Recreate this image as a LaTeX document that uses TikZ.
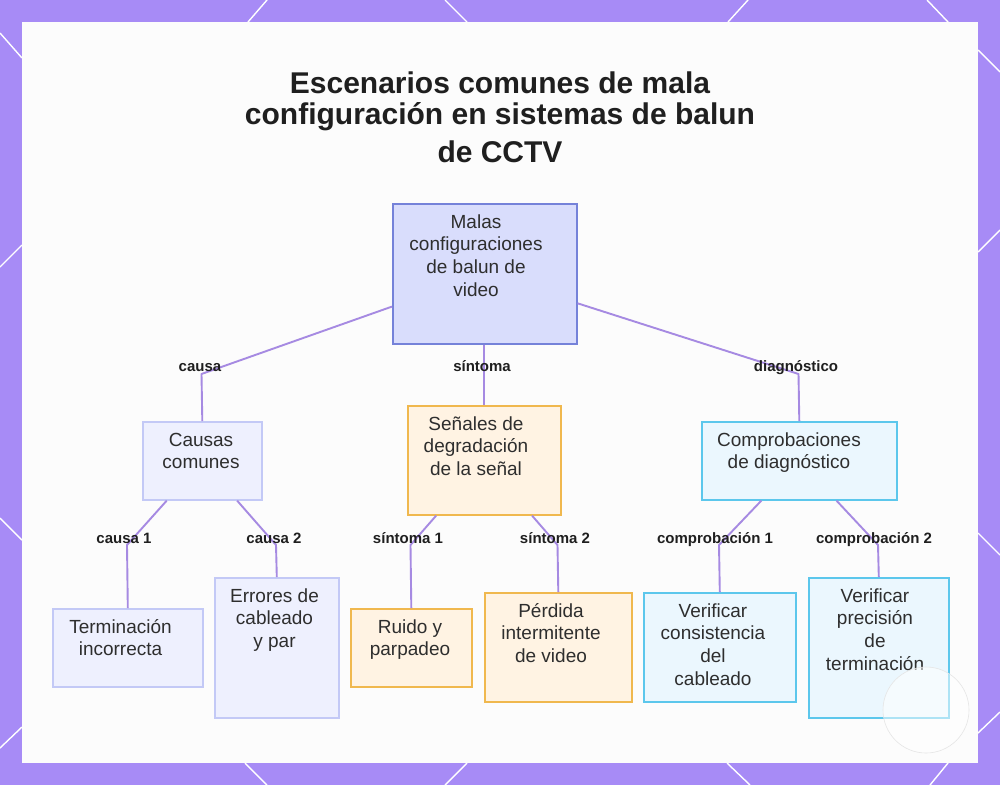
\documentclass[tikz,border=0pt]{standalone}
\usepackage{fontspec}
\setmainfont{Liberation Sans}
\begin{document}
\begin{tikzpicture}[x=1pt,y=-1pt,
  frameline/.style={draw=white,line width=1.4pt},
  box/.style={draw,line width=1.6pt,inner sep=0pt,anchor=north west},
  rootbox/.style={box,draw=rootB,fill=rootF},
  causebox/.style={box,draw=causeB,fill=causeF},
  sympbox/.style={box,draw=sympB,fill=sympF},
  diagbox/.style={box,draw=diagB,fill=diagF},
  btext/.style={align=center,inner sep=0pt,anchor=north,text=txt,font=\fontsize{19}{22.6}\selectfont},
  elabel/.style={inner sep=0pt,anchor=base,text=lbl,font=\fontsize{15}{18}\selectfont\bfseries},
  conn/.style={draw=connC,line width=1.9pt,line join=round},
  ttl/.style={anchor=base,inner sep=0pt,text=ttlC,font=\fontsize{30}{36}\selectfont\bfseries}]
\definecolor{frameC}{HTML}{A78BF6}
\definecolor{panelC}{HTML}{FCFCFC}
\definecolor{rootF}{HTML}{D9DDFC}
\definecolor{rootB}{HTML}{7582D9}
\definecolor{causeF}{HTML}{EEF0FE}
\definecolor{causeB}{HTML}{C3C9F6}
\definecolor{sympF}{HTML}{FFF3E3}
\definecolor{sympB}{HTML}{F0B84E}
\definecolor{diagF}{HTML}{EBF7FE}
\definecolor{diagB}{HTML}{5CC7EC}
\definecolor{connC}{HTML}{A68AE2}
\definecolor{txt}{HTML}{2E2E2E}
\definecolor{lbl}{HTML}{1F1F1F}
\definecolor{ttlC}{HTML}{1F1F1F}
\useasboundingbox (0,0) rectangle (1000,785);
% frame
\fill[frameC] (0,0) rectangle (1000,785);
\draw[frameline] (248,22) -- (267,0);
\draw[frameline] (445,0) -- (467,22);
\draw[frameline] (728,22) -- (748,0);
\draw[frameline] (927,0) -- (948,22);
\draw[frameline] (978,50) -- (1000,72);
\draw[frameline] (978,252) -- (1000,230);
\draw[frameline] (978,533) -- (1000,555);
\draw[frameline] (978,733) -- (1000,712);
\draw[frameline] (727,763) -- (750,785);
\draw[frameline] (948,763) -- (930,785);
\draw[frameline] (245,763) -- (267,785);
\draw[frameline] (467,763) -- (445,785);
\draw[frameline] (0,33) -- (22,58);
\draw[frameline] (0,267) -- (22,245);
\draw[frameline] (0,518) -- (22,540);
\draw[frameline] (0,748) -- (22,727);
\fill[panelC] (22,22) rectangle (978,763);
% title
\node[ttl] (t1) at (500,93) {Escenarios comunes de mala};
\node[ttl] (t2) at (500,124) {configuración en sistemas de balun};
\node[ttl] (t3) at (500,162) {de CCTV};
% boxes
\node[rootbox,minimum width=184pt,minimum height=140pt] (root) at (392,203) {};
\node[causebox,minimum width=119pt,minimum height=78pt] (causas) at (142,421) {};
\node[causebox,minimum width=150pt,minimum height=78pt] (term) at (52,608) {};
\node[causebox,minimum width=124pt,minimum height=140pt] (err) at (214,577) {};
\node[sympbox,minimum width=153pt,minimum height=109pt] (senal) at (407,405) {};
\node[sympbox,minimum width=121pt,minimum height=78pt] (ruido) at (350,608) {};
\node[sympbox,minimum width=147pt,minimum height=109pt] (perd) at (484,592) {};
\node[diagbox,minimum width=195pt,minimum height=78pt] (comp) at (701,421) {};
\node[diagbox,minimum width=152pt,minimum height=109pt] (vcons) at (643,592) {};
\node[diagbox,minimum width=140pt,minimum height=140pt] (vprec) at (808,577) {};
% texts
\node[btext] (troot) at (476,213) {\rule{0pt}{15pt}Malas\\configuraciones\\de balun de\\video};
\node[btext] (tcausas) at (201,431) {\rule{0pt}{15pt}Causas\\comunes};
\node[btext] (tterm) at (120.5,618) {\rule{0pt}{15pt}Terminación\\incorrecta};
\node[btext] (terr) at (274.5,587) {\rule{0pt}{15pt}Errores de\\cableado\\y par};
\node[btext] (tsenal) at (476,415) {\rule{0pt}{15pt}Señales de\\degradación\\de la señal};
\node[btext] (truido) at (410,618) {\rule{0pt}{15pt}Ruido y\\parpadeo};
\node[btext] (tperd) at (551,602) {\rule{0pt}{15pt}Pérdida\\intermitente\\de video};
\node[btext] (tcomp) at (789,431) {\rule{0pt}{15pt}Comprobaciones\\de diagnóstico};
\node[btext] (tvcons) at (713,602) {\rule{0pt}{15pt}Verificar\\consistencia\\del\\cableado};
\node[btext] (tvprec) at (875,587) {\rule{0pt}{15pt}Verificar\\precisión\\de\\terminación};
% kinks
\coordinate (k1) at (201.5,374);
\coordinate (k3) at (798.5,374);
\coordinate (k11) at (127,545);
\coordinate (k12) at (276,545);
\coordinate (k21) at (410.5,545);
\coordinate (k22) at (557.5,545);
\coordinate (k31) at (719,545);
\coordinate (k32) at (878,545);
% connectors
\draw[conn] (root) -- (k1) -- (causas.north);
\draw[conn] (root.south -| senal.north) -- (senal.north);
\draw[conn] (root) -- (k3) -- (comp.north);
\draw[conn] (causas) -- (k11) -- (term.north);
\draw[conn] (causas) -- (k12) -- (err.north);
\draw[conn] (senal) -- (k21) -- (ruido.north);
\draw[conn] (senal) -- (k22) -- (perd.north);
\draw[conn] (comp) -- (k31) -- (vcons.north);
\draw[conn] (comp) -- (k32) -- (vprec.north);
% labels
\node[elabel] (l1) at (200,371.5) {causa};
\node[elabel] (l2) at (482,371.5) {síntoma};
\node[elabel] (l3) at (796,371.5) {diagnóstico};
\node[elabel] (l11) at (124,543.5) {causa 1};
\node[elabel] (l12) at (274,543.5) {causa 2};
\node[elabel] (l21) at (408,543.5) {síntoma 1};
\node[elabel] (l22) at (555,543.5) {síntoma 2};
\node[elabel] (l31) at (715,543.5) {comprobación 1};
\node[elabel] (l32) at (874,543.5) {comprobación 2};
% faint watermark circle
\draw[draw=white!90!black,line width=0.6pt,fill=white,fill opacity=0.5] (926,710) circle (43);
\end{tikzpicture}
\end{document}
